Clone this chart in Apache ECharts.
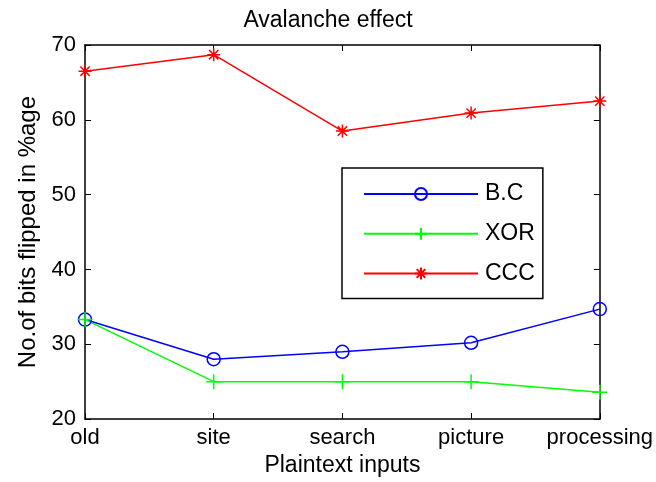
<!DOCTYPE html>
<html>
<head>
<meta charset="utf-8">
<script src="https://cdn.jsdelivr.net/npm/echarts@6/dist/echarts.min.js"></script>
<style>
html,body{margin:0;padding:0;background:#fff;}
#chart{width:656px;height:482px;}
</style>
</head>
<body>
<div id="chart"></div>
<script>
var categories = ['old', 'site', 'search', 'picture', 'processing'];
var bcValues = [33.3, 28.0, 29.0, 30.2, 34.7];
var xorValues = [33.3, 25.0, 25.0, 25.0, 23.6];
var cccValues = [66.5, 68.7, 58.5, 60.9, 62.5];
var yTicks = [20, 30, 40, 50, 60, 70];

var FONT = 'Liberation Sans, Arial, sans-serif';
var chart = echarts.init(document.getElementById('chart'));

var plusPath = 'path://M0,-8L0,8M-8,0L8,0';
var starPath = 'path://M0,-6L0,6M-6,0L6,0M-4.3,-4.3L4.3,4.3M-4.3,4.3L4.3,-4.3';

var axisLine = {show: true, lineStyle: {color: '#000', width: 1.5}};
var tick = {show: true, inside: true, length: 6, lineStyle: {color: '#000', width: 1}};

chart.setOption({
  backgroundColor: '#fff',
  animation: false,
  title: {
    text: 'Avalanche effect',
    left: 'center',
    top: 4,
    textStyle: {fontFamily: FONT, fontSize: 23, fontWeight: 'normal', color: '#000'}
  },
  grid: {left: 85, right: 55, top: 45, bottom: 62, show: false},
  legend: {
    orient: 'vertical',
    left: 342,
    top: 168,
    padding: [14, 8, 13, 21],
    itemWidth: 114,
    itemHeight: 15,
    itemGap: 15.7,
    borderColor: '#000',
    borderWidth: 1.5,
    backgroundColor: '#fff',
    textStyle: {fontFamily: FONT, fontSize: 23, color: '#000', lineHeight: 24, padding: [0, 0, 0, 2]},
    data: ['B.C', 'XOR', 'CCC']
  },
  xAxis: [{
    type: 'category',
    data: categories,
    boundaryGap: false,
    position: 'bottom',
    axisLine: axisLine,
    axisTick: Object.assign({alignWithLabel: true}, tick),
    axisLabel: {fontFamily: FONT, fontSize: 22, color: '#000', margin: 8, interval: 0},
    splitLine: {show: false},
    name: 'Plaintext inputs',
    nameLocation: 'middle',
    nameGap: 34,
    nameTextStyle: {fontFamily: FONT, fontSize: 23, color: '#000'}
  }, {
    type: 'category',
    data: categories,
    boundaryGap: false,
    position: 'top',
    axisLine: axisLine,
    axisTick: tick,
    axisLabel: {show: false},
    splitLine: {show: false}
  }],
  yAxis: [{
    type: 'value',
    min: yTicks[0],
    max: yTicks[yTicks.length - 1],
    interval: 10,
    position: 'left',
    axisLine: axisLine,
    axisTick: tick,
    axisLabel: {fontFamily: FONT, fontSize: 22, color: '#000', margin: 9},
    splitLine: {show: false},
    name: 'No.of bits flipped in %age',
    nameLocation: 'middle',
    nameGap: 44,
    nameTextStyle: {fontFamily: FONT, fontSize: 24, color: '#000'}
  }, {
    type: 'value',
    min: yTicks[0],
    max: yTicks[yTicks.length - 1],
    interval: 10,
    position: 'right',
    axisLine: axisLine,
    axisTick: tick,
    axisLabel: {show: false},
    splitLine: {show: false}
  }],
  series: [{
    name: 'B.C',
    type: 'line',
    data: bcValues,
    symbol: 'circle',
    symbolSize: 13,
    showAllSymbol: true,
    lineStyle: {color: '#0000ff', width: 1.5},
    itemStyle: {color: 'rgba(0,0,0,0)', borderColor: '#0000ff', borderWidth: 1.5}
  }, {
    name: 'XOR',
    type: 'line',
    data: xorValues,
    symbol: plusPath,
    symbolSize: 15,
    showAllSymbol: true,
    lineStyle: {color: '#00ff00', width: 1.5},
    itemStyle: {color: '#00ff00', borderColor: '#00ff00', borderWidth: 1.5}
  }, {
    name: 'CCC',
    type: 'line',
    data: cccValues,
    symbol: starPath,
    symbolSize: 13,
    showAllSymbol: true,
    lineStyle: {color: '#ff0000', width: 1.5},
    itemStyle: {color: '#ff0000', borderColor: '#ff0000', borderWidth: 1.5}
  }]
});
</script>
</body>
</html>
